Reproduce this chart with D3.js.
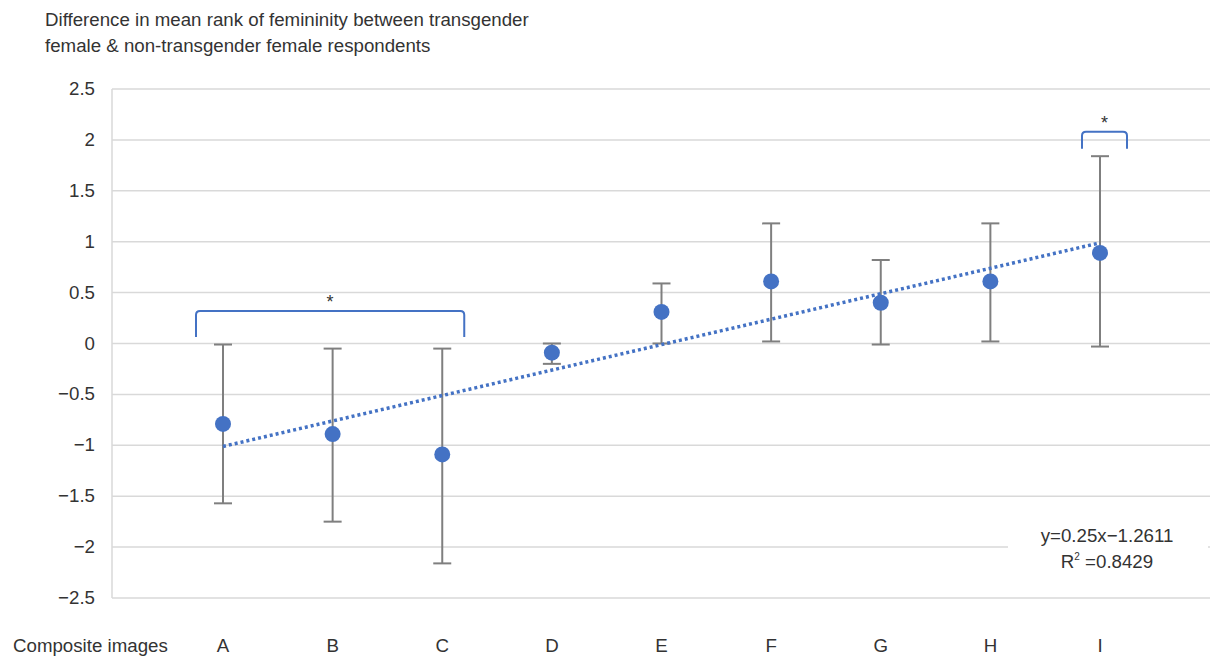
<!DOCTYPE html>
<html>
<head>
<meta charset="utf-8">
<script src="https://cdn.jsdelivr.net/npm/d3@7"></script>
<style>
  body { margin: 0; background: #fff; }
  svg text { font-family: "Liberation Sans", Arial, sans-serif; fill: #333; }
</style>
</head>
<body>
<svg id="chart" width="1210" height="656"></svg>
<script>
// data
const categories = ['A', 'B', 'C', 'D', 'E', 'F', 'G', 'H', 'I'];
const means = [-0.79, -0.89, -1.09, -0.09, 0.31, 0.61, 0.40, 0.61, 0.89];
const upper = [-0.01, -0.05, -0.05, 0.00, 0.59, 1.18, 0.82, 1.18, 1.84];
const lower = [-1.57, -1.75, -2.16, -0.20, 0.00, 0.02, -0.01, 0.02, -0.03];
const yTicks = [2.5, 2, 1.5, 1, 0.5, 0, -0.5, -1, -1.5, -2, -2.5];
const slope = 0.25, intercept = -1.2611;
const brackets = [{from: 'A', to: 'C', y: 0.32}, {from: 'I', to: 'I', y: 2.08}];

const svg = d3.select('#chart');
const blue = '#4472c4';
const fs = '18.7px';

// scales
const x = d3.scaleLinear().domain([1, 9]).range([223, 1100]);
const xi = c => x(categories.indexOf(c) + 1);
const y = d3.scaleLinear().domain([-2.5, 2.5]).range([598, 89]);
const fmt = v => (v < 0 ? '\u2212' + Math.abs(v) : String(v));

// gridlines
svg.append('g')
  .selectAll('line')
  .data(yTicks)
  .join('line')
  .attr('x1', 112).attr('x2', 1210)
  .attr('y1', d => y(d)).attr('y2', d => y(d))
  .attr('stroke', '#d9d9d9').attr('stroke-width', 1.5);

// left axis line
svg.append('line')
  .attr('x1', 112).attr('x2', 112)
  .attr('y1', y(2.5)).attr('y2', y(-2.5))
  .attr('stroke', '#d9d9d9').attr('stroke-width', 1.5);

// y labels
svg.append('g')
  .selectAll('text')
  .data(yTicks)
  .join('text')
  .attr('x', 95)
  .attr('y', d => y(d) + 6)
  .attr('text-anchor', 'end')
  .style('font-size', fs)
  .text(fmt);

// title
svg.append('text').attr('x', 45).attr('y', 26).style('font-size', fs)
  .text('Difference in mean rank of femininity between transgender');
svg.append('text').attr('x', 45).attr('y', 52).style('font-size', fs)
  .text('female & non-transgender female respondents');

// x labels
svg.append('text').attr('x', 13).attr('y', 652).style('font-size', fs).text('Composite images');
svg.append('g')
  .selectAll('text')
  .data(categories)
  .join('text')
  .attr('x', (d, i) => x(i + 1))
  .attr('y', 652)
  .attr('text-anchor', 'middle')
  .style('font-size', fs)
  .text(d => d);

// equation box (covers gridline)
svg.append('rect').attr('x', 1008).attr('y', 518).attr('width', 200).attr('height', 58).attr('fill', '#fff');
const eq = svg.append('g').style('font-size', fs).attr('text-anchor', 'middle');
eq.append('text').attr('x', 1107).attr('y', 542).text('y=0.25x\u22121.2611');
const r2 = eq.append('text').attr('x', 1107).attr('y', 568);
r2.append('tspan').text('R');
r2.append('tspan').attr('dy', -8).style('font-size', '10px').text('2');
r2.append('tspan').attr('dy', 8).text(' =0.8429');

// error bars
const eb = svg.append('g').attr('stroke', '#7f7f7f').attr('stroke-width', 2);
categories.forEach((c, i) => {
  const cx = x(i + 1);
  eb.append('line').attr('x1', cx).attr('x2', cx).attr('y1', y(upper[i])).attr('y2', y(lower[i]));
  eb.append('line').attr('x1', cx - 9).attr('x2', cx + 9).attr('y1', y(upper[i])).attr('y2', y(upper[i]));
  eb.append('line').attr('x1', cx - 9).attr('x2', cx + 9).attr('y1', y(lower[i])).attr('y2', y(lower[i]));
});

// trendline
svg.append('line')
  .attr('x1', x(1)).attr('y1', y(slope * 1 + intercept))
  .attr('x2', x(9)).attr('y2', y(slope * 9 + intercept))
  .attr('stroke', blue).attr('stroke-width', 3.5)
  .attr('stroke-dasharray', '3,3');

// points
svg.append('g')
  .selectAll('circle')
  .data(means)
  .join('circle')
  .attr('cx', (d, i) => x(i + 1))
  .attr('cy', d => y(d))
  .attr('r', 8)
  .attr('fill', blue);

// significance brackets
brackets.forEach(b => {
  const single = b.from === b.to;
  const x1 = xi(b.from) - (single ? 18 : 27);
  const x2 = xi(b.to) + (single ? 27 : 22);
  const by = y(b.y);
  const depth = single ? 17 : 26;
  const r = 4;
  svg.append('path')
    .attr('d', `M${x1},${by + depth} L${x1},${by + r} Q${x1},${by} ${x1 + r},${by} L${x2 - r},${by} Q${x2},${by} ${x2},${by + r} L${x2},${by + depth}`)
    .attr('fill', 'none').attr('stroke', blue).attr('stroke-width', 2);
  svg.append('text')
    .attr('x', (x1 + x2) / 2).attr('y', by - 3)
    .attr('text-anchor', 'middle')
    .style('font-size', '18px')
    .text('*');
});
</script>
</body>
</html>
